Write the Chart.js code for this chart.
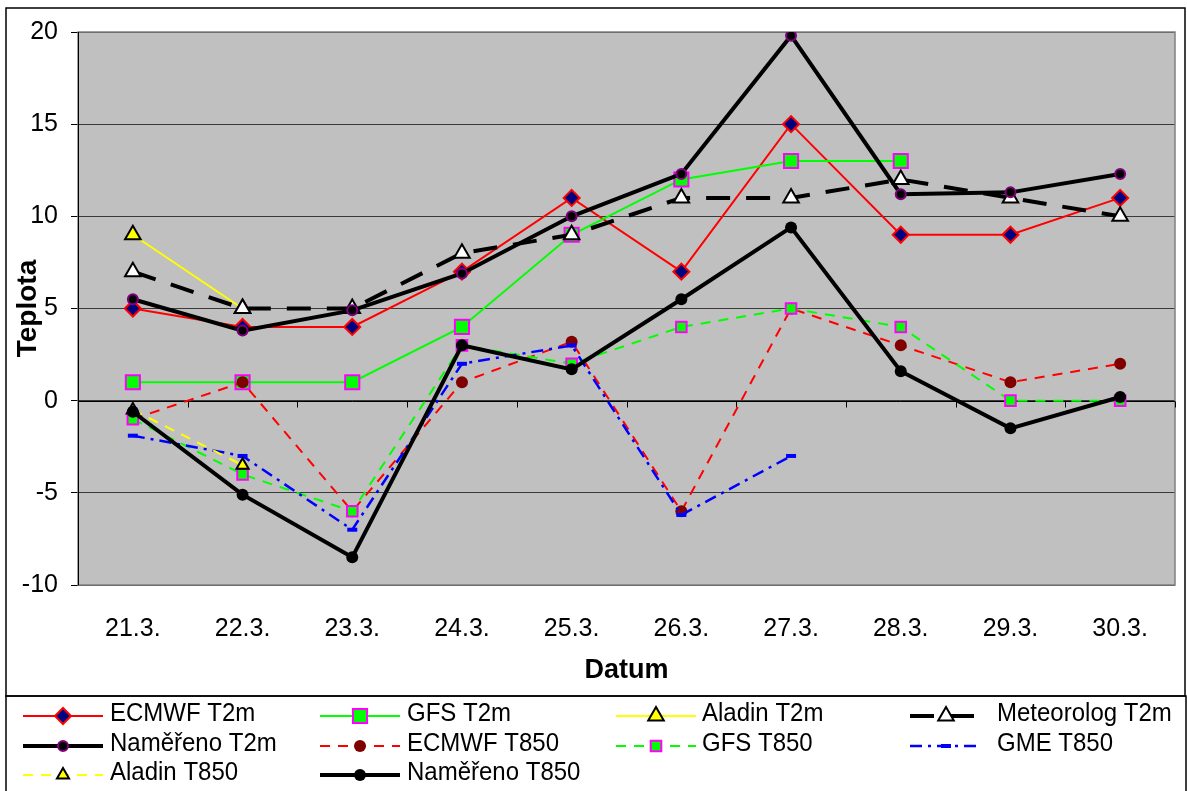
<!DOCTYPE html>
<html>
<head>
<meta charset="utf-8">
<script src="https://cdn.jsdelivr.net/npm/chart.js@4"></script>
<style>
  html, body { margin: 0; padding: 0; background: #fff; }
  #wrap { width: 1187px; height: 791px; }
</style>
</head>
<body>
<div id="wrap"><canvas id="chart" width="1187" height="791"></canvas></div>
<script>
// DATA
const labels = ["21.3.", "22.3.", "23.3.", "24.3.", "25.3.", "26.3.", "27.3.", "28.3.", "29.3.", "30.3."];
const yTicks = [-10, -5, 0, 5, 10, 15, 20];

const ecmwfT2m = [5, 4, 4, 7, 11, 7, 15, 9, 9, 11];
const gfsT2m = [1, 1, 1, 4, 9, 12, 13, 13, null, null];
const aladinT2m = [9, 5, null, null, null, null, null, null, null, null];
const meteorologT2m = [7, 5, 5, 8, 9, 11, 11, 12, 11, 10];
const namerenoT2m = [5.5, 3.8, 4.9, 6.9, 10, 12.3, 19.8, 11.2, 11.3, 12.3];
const ecmwfT850 = [-1, 1, -6, 1, 3.2, -6, 5, 3, 1, 2];
const gfsT850 = [-1, -4, -6, 3, 2, 4, 5, 4, 0, 0];
const gmeT850 = [-1.9, -3, -7, 2, 3, -6.2, -3, null, null, null];
const aladinT850 = [-0.5, -3.5, null, null, null, null, null, null, null, null];
const namerenoT850 = [-0.6, -5.1, -8.5, 3, 1.7, 5.5, 9.4, 1.6, -1.5, 0.2];

const FONT = "'Liberation Sans', Arial, sans-serif";

const datasets = [
  { label: "ECMWF T2m", data: ecmwfT2m, borderColor: "#ff0000", borderWidth: 2,
    pointStyle: "rectRot", pointRadius: 8, pointBackgroundColor: "#000080", pointBorderColor: "#ff0000", pointBorderWidth: 2 },
  { label: "GFS T2m", data: gfsT2m, borderColor: "#00ff00", borderWidth: 2,
    pointStyle: "rect", pointRadius: 10, pointBackgroundColor: "#00ff00", pointBorderColor: "#ff00ff", pointBorderWidth: 2 },
  { label: "Aladin T2m", data: aladinT2m, borderColor: "#ffff00", borderWidth: 2,
    pointStyle: "triangle", pointRadius: 9, pointBackgroundColor: "#ffff00", pointBorderColor: "#000000", pointBorderWidth: 2 },
  { label: "Meteorolog T2m", data: meteorologT2m, borderColor: "#000000", borderWidth: 4, borderDash: [24, 16],
    pointStyle: "triangle", pointRadius: 9, pointBackgroundColor: "#ffffff", pointBorderColor: "#000000", pointBorderWidth: 2 },
  { label: "Naměřeno T2m", data: namerenoT2m, borderColor: "#000000", borderWidth: 4,
    pointStyle: "circle", pointRadius: 5, pointBackgroundColor: "#000000", pointBorderColor: "#800080", pointBorderWidth: 2 },
  { label: "ECMWF T850", data: ecmwfT850, borderColor: "#ff0000", borderWidth: 2, borderDash: [10, 8],
    pointStyle: "circle", pointRadius: 6, pointBackgroundColor: "#800000", pointBorderColor: "#800000", pointBorderWidth: 0 },
  { label: "GFS T850", data: gfsT850, borderColor: "#00ff00", borderWidth: 2, borderDash: [10, 8],
    pointStyle: "rect", pointRadius: 7.5, pointBackgroundColor: "#00ff00", pointBorderColor: "#ff00ff", pointBorderWidth: 2 },
  { label: "GME T850", data: gmeT850, borderColor: "#0000ff", borderWidth: 2.5, borderDash: [12, 6, 3, 6],
    pointStyle: "line", pointRadius: 5, pointBackgroundColor: "#0000ff", pointBorderColor: "#0000ff", pointBorderWidth: 4 },
  { label: "Aladin T850", data: aladinT850, borderColor: "#ffff00", borderWidth: 2, borderDash: [10, 8],
    pointStyle: "triangle", pointRadius: 7, pointBackgroundColor: "#ffff00", pointBorderColor: "#000000", pointBorderWidth: 2 },
  { label: "Naměřeno T850", data: namerenoT850, borderColor: "#000000", borderWidth: 4,
    pointStyle: "circle", pointRadius: 6, pointBackgroundColor: "#000000", pointBorderColor: "#000000", pointBorderWidth: 0 },
];
// later series on top, like the original
datasets.forEach((d, i) => { d.order = -i; d.tension = 0; d.fill = false; d.pointHoverRadius = d.pointRadius; });

// plot background + frames + legend
const decor = {
  id: "decor",
  beforeDraw(chart) {
    const { ctx, chartArea: a } = chart;
    ctx.save();
    ctx.fillStyle = "#fff";
    ctx.fillRect(0, 0, chart.width, chart.height);
    ctx.fillStyle = "#c0c0c0";
    ctx.fillRect(a.left, a.top, a.right - a.left, a.bottom - a.top);
    ctx.restore();
  },
  beforeDatasetsDraw(chart) {
    const { ctx, chartArea: a, scales } = chart;
    ctx.save();
    ctx.strokeStyle = "#808080";
    ctx.lineWidth = 1.5;
    ctx.strokeRect(a.left, a.top, a.right - a.left, a.bottom - a.top);
    ctx.strokeStyle = "#000";
    ctx.lineWidth = 1;
    ctx.beginPath();
    ctx.moveTo(a.left + 0.5, a.top);
    ctx.lineTo(a.left + 0.5, a.bottom);
    // x axis crosses at 0
    const y0 = Math.round(scales.y.getPixelForValue(0)) + 0.5;
    ctx.moveTo(a.left, y0);
    ctx.lineTo(a.right, y0);
    const step = (a.right - a.left) / labels.length;
    for (let i = 0; i <= labels.length; i++) {
      const x = Math.round(a.left + i * step) + 0.5;
      ctx.moveTo(x, y0);
      ctx.lineTo(x, y0 + 6);
    }
    ctx.stroke();
    ctx.restore();
  },
  afterDraw(chart) {
    const { ctx } = chart;
    ctx.save();
    ctx.strokeStyle = "#000";
    ctx.lineWidth = 1.5;
    ctx.strokeRect(6, 8, 1179, 688);
    ctx.strokeRect(6, 696, 1180, 96);

    // legend, 4 columns
    const cols = [[23, 103, 110], [320, 400, 407], [616, 696, 702], [910, 982, 997]];
    const rows = [716, 746, 775];
    chart.data.datasets.forEach((d, i) => {
      const [x0, x1, tx] = cols[i % 4];
      const y = rows[Math.floor(i / 4)];
      ctx.save();
      ctx.strokeStyle = d.borderColor;
      ctx.lineWidth = d.borderWidth;
      ctx.setLineDash(d.borderDash || []);
      ctx.beginPath();
      ctx.moveTo(x0, y);
      ctx.lineTo(x1, y);
      ctx.stroke();
      ctx.setLineDash([]);
      ctx.fillStyle = d.pointBackgroundColor;
      ctx.strokeStyle = d.pointBorderColor;
      ctx.lineWidth = d.pointBorderWidth;
      Chart.helpers.drawPoint(ctx, {
        pointStyle: d.pointStyle, rotation: 0,
        radius: d.pointRadius, borderWidth: d.pointBorderWidth
      }, (x0 + x1) / 2, y);
      // text is a bit taller than wide in the original
      ctx.translate(tx, y - 2);
      ctx.scale(1, 1.1);
      ctx.font = "24px " + FONT;
      ctx.textBaseline = "middle";
      ctx.textAlign = "left";
      ctx.fillStyle = "#000";
      ctx.fillText(d.label, 0, 0);
      ctx.restore();
    });
    ctx.restore();
  }
};

new Chart(document.getElementById("chart"), {
  type: "line",
  data: { labels: labels, datasets: datasets },
  options: {
    responsive: false,
    animation: false,
    layout: { padding: { left: 6, top: 32, right: 9, bottom: 96 } },
    plugins: { legend: { display: false }, tooltip: { enabled: false } },
    scales: {
      x: {
        offset: true,
        grid: { display: false, drawTicks: false },
        border: { display: false },
        ticks: { color: "#000", font: { family: FONT, size: 25 }, padding: 29, maxRotation: 0 },
        title: { display: true, text: "Datum", color: "#000", font: { family: FONT, size: 27, weight: "bold" }, padding: { bottom: 8, top: 0 } },
        afterFit(s) { s.height = 110; }
      },
      y: {
        min: -10, max: 20,
        afterBuildTicks(s) { s.ticks = yTicks.map(v => ({ value: v })); },
        grid: { color: "#3a3a3a", lineWidth: 1, tickColor: "#000", tickLength: 7 },
        border: { display: true, color: "#000" },
        ticks: { color: "#000", font: { family: FONT, size: 25 }, padding: 13 },
        title: { display: true, text: "Teplota", color: "#000", font: { family: FONT, size: 28, weight: "bold" }, padding: { top: 5, bottom: 0 } },
        afterFit(s) { s.width = 72; }
      }
    }
  },
  plugins: [decor]
});
</script>
</body>
</html>
